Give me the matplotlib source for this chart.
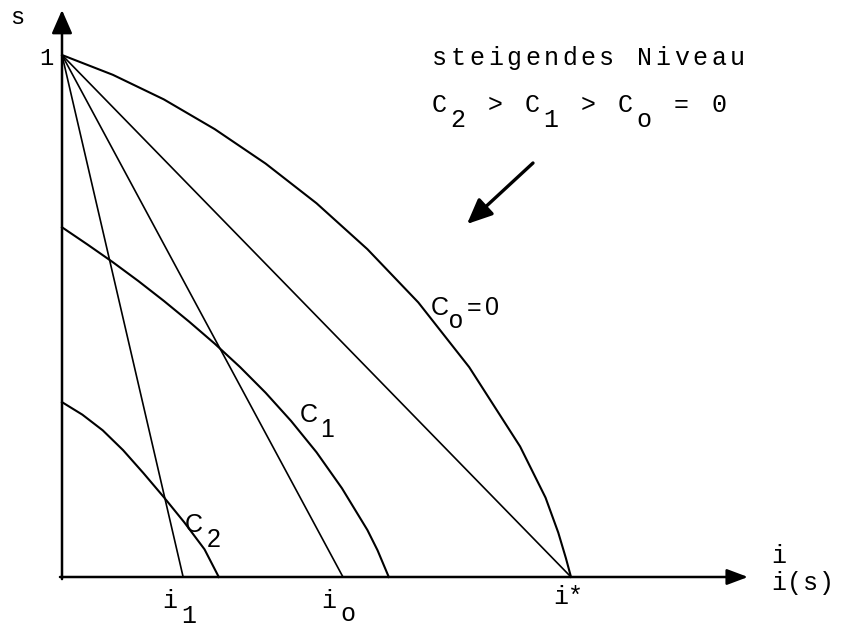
import matplotlib
matplotlib.use("Agg")
import matplotlib.pyplot as plt
from matplotlib.patches import FancyArrowPatch

# --- data (i scaled so that i* = 1, s in [0, 1]) ---
i_star = 1.0
i_0 = 0.552
i_1 = 0.238

c0_i = [0.0, 0.05, 0.1, 0.2, 0.3, 0.4, 0.5, 0.6, 0.7, 0.8, 0.9, 0.95, 0.975, 0.99, 1.0]
c0_s = [1.0, 0.981, 0.962, 0.915, 0.858, 0.792, 0.716, 0.628, 0.526, 0.402, 0.250, 0.152, 0.085, 0.036, 0.0]

c1_i = [0.0, 0.05, 0.1, 0.15, 0.2, 0.25, 0.3, 0.35, 0.4, 0.45, 0.5, 0.55, 0.6, 0.62, 0.642]
c1_s = [0.670, 0.637, 0.603, 0.567, 0.529, 0.489, 0.447, 0.402, 0.353, 0.299, 0.239, 0.170, 0.090, 0.051, 0.0]

c2_i = [0.0, 0.04, 0.08, 0.12, 0.16, 0.2, 0.24, 0.28, 0.308]
c2_s = [0.335, 0.311, 0.281, 0.243, 0.199, 0.153, 0.105, 0.053, 0.0]

ray_ends = [i_1, i_0, i_star]

W, H = 842, 627
MONO = "Liberation Mono"
SANS = "Liberation Sans"

fig = plt.figure(figsize=(W / 100, H / 100), dpi=100)
ax = fig.add_axes([0, 0, 1, 1])
# axes origin sits at pixel (62, 577); i* at x=571, s=1 at y=55
ax.set_xlim(-62 / 509, (W - 62) / 509)
ax.set_ylim(-(H - 577) / 522, 577 / 522)
ax.axis("off")


def to_fig(x, y):
    return x / W, 1 - y / H


def typewrite(x0, y0, segments, size, family=MONO, step=18.6, drop=15):
    # typewriter style: every char on a fixed grid, subscripts just moved down
    x = x0
    for txt, sub in segments:
        for ch in txt:
            fx, fy = to_fig(x, y0 + (drop if sub else 0))
            fig.text(fx, fy, ch, fontsize=size, family=family,
                     ha="left", va="baseline")
            x += step


# axes with arrow heads
ax.annotate("", xy=(0, 567 / 522), xytext=(0, -0.004),
            arrowprops=dict(arrowstyle="-|>,head_length=0.8,head_width=0.35",
                            mutation_scale=18, lw=1.8, color="black",
                            shrinkA=0, shrinkB=0))
ax.annotate("", xy=(686 / 509, 0), xytext=(-0.004, 0),
            arrowprops=dict(arrowstyle="-|>,head_length=0.8,head_width=0.3",
                            mutation_scale=16, lw=1.8, color="black",
                            shrinkA=0, shrinkB=0))

# rays from (0, 1)
for end in ray_ends:
    ax.plot([0, end], [1, 0], color="black", lw=1.2, solid_capstyle="round")

# curves
for ci, cs in [(c0_i, c0_s), (c1_i, c1_s), (c2_i, c2_s)]:
    ax.plot(ci, cs, color="black", lw=1.5, solid_joinstyle="round")

# arrow pointing to rising level
fa, fb = to_fig(533, 163), to_fig(467, 224)
fig.add_artist(FancyArrowPatch(
    fa, fb, transform=fig.transFigure,
    arrowstyle="-|>,head_length=0.9,head_width=0.4", mutation_scale=17,
    lw=2.4, color="black", shrinkA=0, shrinkB=0))

# texts
typewrite(432, 65, [("steigendes Niveau", False)], 18)
typewrite(432, 112, [("C", False), ("2", True), (" > C", False), ("1", True),
                     (" > C", False), ("o", True), (" = 0", False)], 18)

typewrite(431, 315, [("C", False), ("o", True), ("=0", False)], 18,
          family=SANS, step=18, drop=13)
typewrite(300, 422, [("C", False), ("1", True)], 18, family=SANS, step=20, drop=15)
typewrite(185, 532, [("C", False), ("2", True)], 18, family=SANS, step=22, drop=15)

typewrite(10, 24, [("s", False)], 17)
typewrite(39, 65, [("1", False)], 17)
typewrite(162, 608, [("i", False), ("1", True)], 18, step=19, drop=15)
typewrite(321, 608, [("i", False), ("o", True)], 18, step=19, drop=13)
typewrite(553, 604, [("i*", False)], 18, step=15)
typewrite(771, 563, [("i", False)], 18)
typewrite(771, 590, [("i(s)", False)], 18, step=16)

fig.savefig("out.png", dpi=100, facecolor="white")
